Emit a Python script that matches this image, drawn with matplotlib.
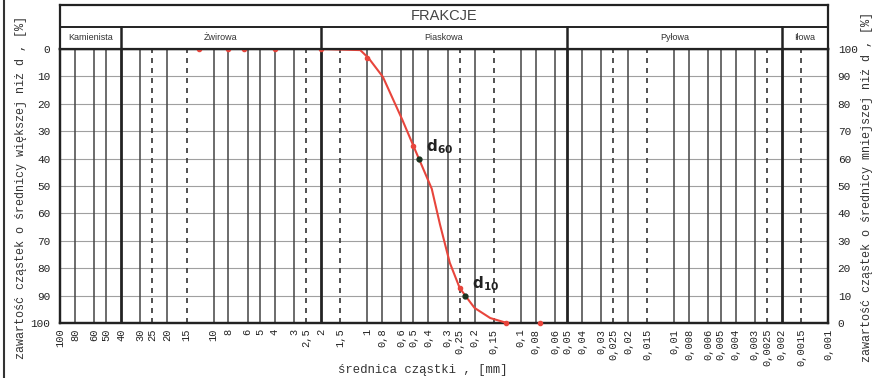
import matplotlib
matplotlib.use('Agg')
import matplotlib.pyplot as plt
from matplotlib.lines import Line2D
from matplotlib.ticker import NullLocator
import numpy as np

# ---------------- data ----------------
ticks = [100, 80, 60, 50, 40, 30, 25, 20, 15, 10, 8, 6, 5, 4, 3, 2.5, 2, 1.5,
         1, 0.8, 0.6, 0.5, 0.4, 0.3, 0.25, 0.2, 0.15, 0.1, 0.08, 0.06, 0.05,
         0.04, 0.03, 0.025, 0.02, 0.015, 0.01, 0.008, 0.006, 0.005, 0.004,
         0.003, 0.0025, 0.002, 0.0015, 0.001]
dashed_ticks = [25, 15, 2.5, 1.5, 0.25, 0.15, 0.025, 0.015, 0.0025, 0.0015]
fraction_edges = [100, 40, 2, 0.05, 0.002, 0.001]
fraction_names = ['Kamienista', 'Żwirowa', 'Piaskowa', 'Pyłowa', 'Iłowa']

# grading curve (diameter mm, % passing)
curve_d = [2.0, 1.11, 0.98, 0.79, 0.59, 0.50, 0.42, 0.38, 0.336, 0.29,
           0.25, 0.23, 0.20, 0.158, 0.123]
curve_pass = [100, 99.6, 96.7, 89.8, 74.1, 64.6, 54.7, 49, 36, 22, 12.8,
              10, 5.5, 1.8, 0]

# sieve points
sieve_d = [12.5, 8, 6.3, 4, 2, 1.0, 0.5, 0.25, 0.125, 0.075]
sieve_pass = [100, 100, 100, 100, 100, 96.7, 64.6, 12.8, 0, 0]

# characteristic diameters
dchar_names = ['60', '10']
dchar_d = [0.46, 0.231]
dchar_pass = [60, 10]

left_label = 'zawartość cząstek o średnicy większej niż d , [%]'
right_label = 'zawartość cząstek o średnicy mniejszej niż d , [%]'
x_label = 'średnica cząstki , [mm]'

# ---------------- figure ----------------
W, H = 875, 378
fig = plt.figure(figsize=(W / 100, H / 100), dpi=100)
L, R = 60 / W, 828 / W
B, T = 1 - 323 / H, 1 - 49 / H
HT = 1 - 5 / H

mono = ['Liberation Mono', 'DejaVu Sans Mono']
sans = ['Liberation Sans', 'DejaVu Sans']
red = '#e8453c'

ax = fig.add_axes([L, B, R - L, T - B])
ax.set_xscale('log')
ax.set_xlim(100, 0.001)
ax.set_ylim(100, 0)

# vertical grid
for t in ticks:
    if t in (100, 0.001):
        continue
    if t in fraction_edges:
        ax.axvline(t, color='#222222', lw=2.0, zorder=1)
    elif t in dashed_ticks:
        ax.axvline(t, color='#333333', lw=1.2, ls=(0, (3, 3)), zorder=1)
    else:
        ax.axvline(t, color='#444444', lw=1.1, zorder=1)
# horizontal grid
for yv in range(10, 100, 10):
    ax.axhline(yv, color='#a0a0a0', lw=0.8, zorder=0.9)

ax.set_xticks(ticks)
ax.set_xticklabels([('%g' % t).replace('.', ',') for t in ticks])
ax.xaxis.set_minor_locator(NullLocator())
ax.tick_params(axis='x', length=0, pad=4, labelsize=7.5, labelrotation=90,
               colors='#222222')
for lab in ax.get_xticklabels():
    lab.set_family(mono)
    lab.set_va('top')

ax.set_yticks(range(0, 101, 10))
ax.tick_params(axis='y', length=0, pad=7, labelsize=8, colors='#222222')
for lab in ax.get_yticklabels():
    lab.set_family(mono)
for s in ax.spines.values():
    s.set_linewidth(1.6)
    s.set_color('#222222')

ax2 = ax.twinx()
ax2.set_ylim(0, 100)
ax2.set_yticks(range(0, 101, 10))
ax2.tick_params(axis='y', length=0, pad=7, labelsize=8, colors='#222222')
for lab in ax2.get_yticklabels():
    lab.set_family(mono)
for s in ax2.spines.values():
    s.set_linewidth(1.6)
    s.set_color('#222222')

ax2.plot(curve_d, curve_pass, color=red, lw=1.5, zorder=3,
         solid_joinstyle='round')
ax2.plot(sieve_d, sieve_pass, 'o', color=red, ms=3, zorder=4, clip_on=False)
ax2.plot(dchar_d, dchar_pass, 'o', color='#1c3320', ms=3.5, zorder=5)
for n, dd, pp in zip(dchar_names, dchar_d, dchar_pass):
    ax2.annotate(r'$\mathbf{d_{%s}}$' % n, (dd, pp), xytext=(5, 2),
                 textcoords='offset points', fontsize=11, color='#222222',
                 ha='left', va='bottom', zorder=6)

# header
axh = fig.add_axes([L, T, R - L, HT - T])
axh.set_xscale('log')
axh.set_xlim(100, 0.001)
axh.set_ylim(0, 1)
axh.set_xticks([])
axh.set_yticks([])
axh.xaxis.set_minor_locator(NullLocator())
for s in axh.spines.values():
    s.set_linewidth(1.6)
    s.set_color('#222222')
axh.axhline(0.5, color='#222222', lw=1.4)
for e in fraction_edges[1:-1]:
    axh.plot([e, e], [0, 0.5], color='#222222', lw=1.8)
for i, name in enumerate(fraction_names):
    xc = np.sqrt(fraction_edges[i] * fraction_edges[i + 1])
    axh.text(xc, 0.25, name, ha='center', va='center', fontsize=6.5,
             family=sans, color='#333333')
axh.text(np.sqrt(fraction_edges[2] * fraction_edges[3]), 0.75, 'FRAKCJE',
         ha='center', va='center', fontsize=10.5, family=sans,
         color='#444444')

# axis labels
fig.text(21 / W, 0.505, left_label, rotation=90, ha='center', va='center',
         fontsize=8.5, family=mono, color='#333333')
fig.text(867 / W, 0.505, right_label, rotation=90, ha='center', va='center',
         fontsize=8.5, family=mono, color='#333333')
fig.text(423 / W, 1 - 370 / H, x_label, ha='center', va='center',
         fontsize=8.8, family=mono, color='#333333')

fig.add_artist(Line2D([4 / W, 4 / W], [0, 1], transform=fig.transFigure,
                      color='#333333', lw=1.5))

fig.savefig('out.png', dpi=100)
